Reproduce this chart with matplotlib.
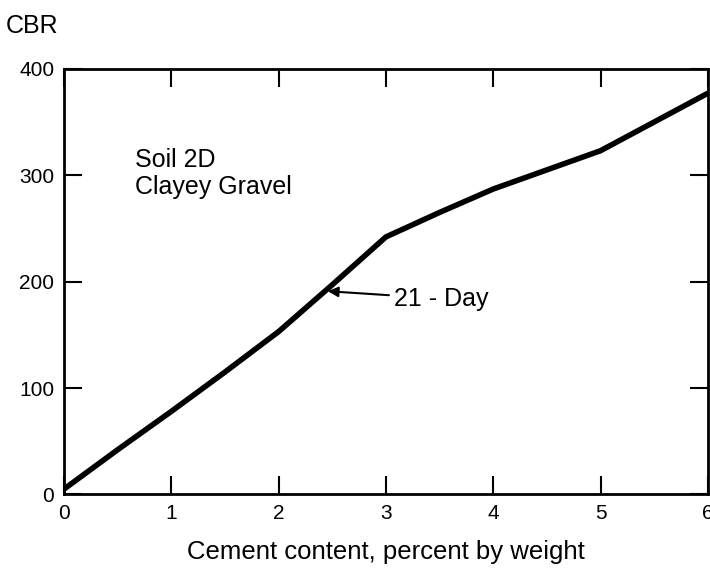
import matplotlib.pyplot as plt

cement = [0, 0.5, 1, 1.5, 2, 2.5, 3, 3.5, 4, 4.5, 5, 5.5, 6]
cbr = [5, 42, 78, 115, 153, 197, 242, 265, 287, 305, 323, 350, 377]

plt.rcParams['font.family'] = ['Liberation Sans', 'DejaVu Sans']

fig = plt.figure(figsize=(7.1, 5.73), dpi=100)
ax = fig.add_axes([0.090, 0.137, 0.907, 0.743])

ax.plot(cement, cbr, color='black', linewidth=4, solid_capstyle='round')

ax.set_xlim(0, 6)
ax.set_ylim(0, 400)
ax.set_xticks(range(0, 7))
ax.set_yticks([0, 100, 200, 300, 400])
ax.tick_params(direction='in', length=13, width=1.5, top=True, right=True,
               labelsize=15, pad=7)
for s in ax.spines.values():
    s.set_linewidth(2)

ax.text(0.66, 314, 'Soil 2D', fontsize=18, va='center')
ax.text(0.66, 289, 'Clayey Gravel', fontsize=18, va='center')

ax.annotate('21 - Day', xy=(2.46, 191), xytext=(3.08, 184),
            fontsize=18, va='center',
            arrowprops=dict(arrowstyle='-|>', color='black', lw=1.5,
                            mutation_scale=15, shrinkA=2, shrinkB=0))

ax.set_xlabel('Cement content, percent by weight', fontsize=18.5, labelpad=12)
fig.text(0.008, 0.955, 'CBR', fontsize=18, va='center')

fig.savefig('out.png', dpi=100)
